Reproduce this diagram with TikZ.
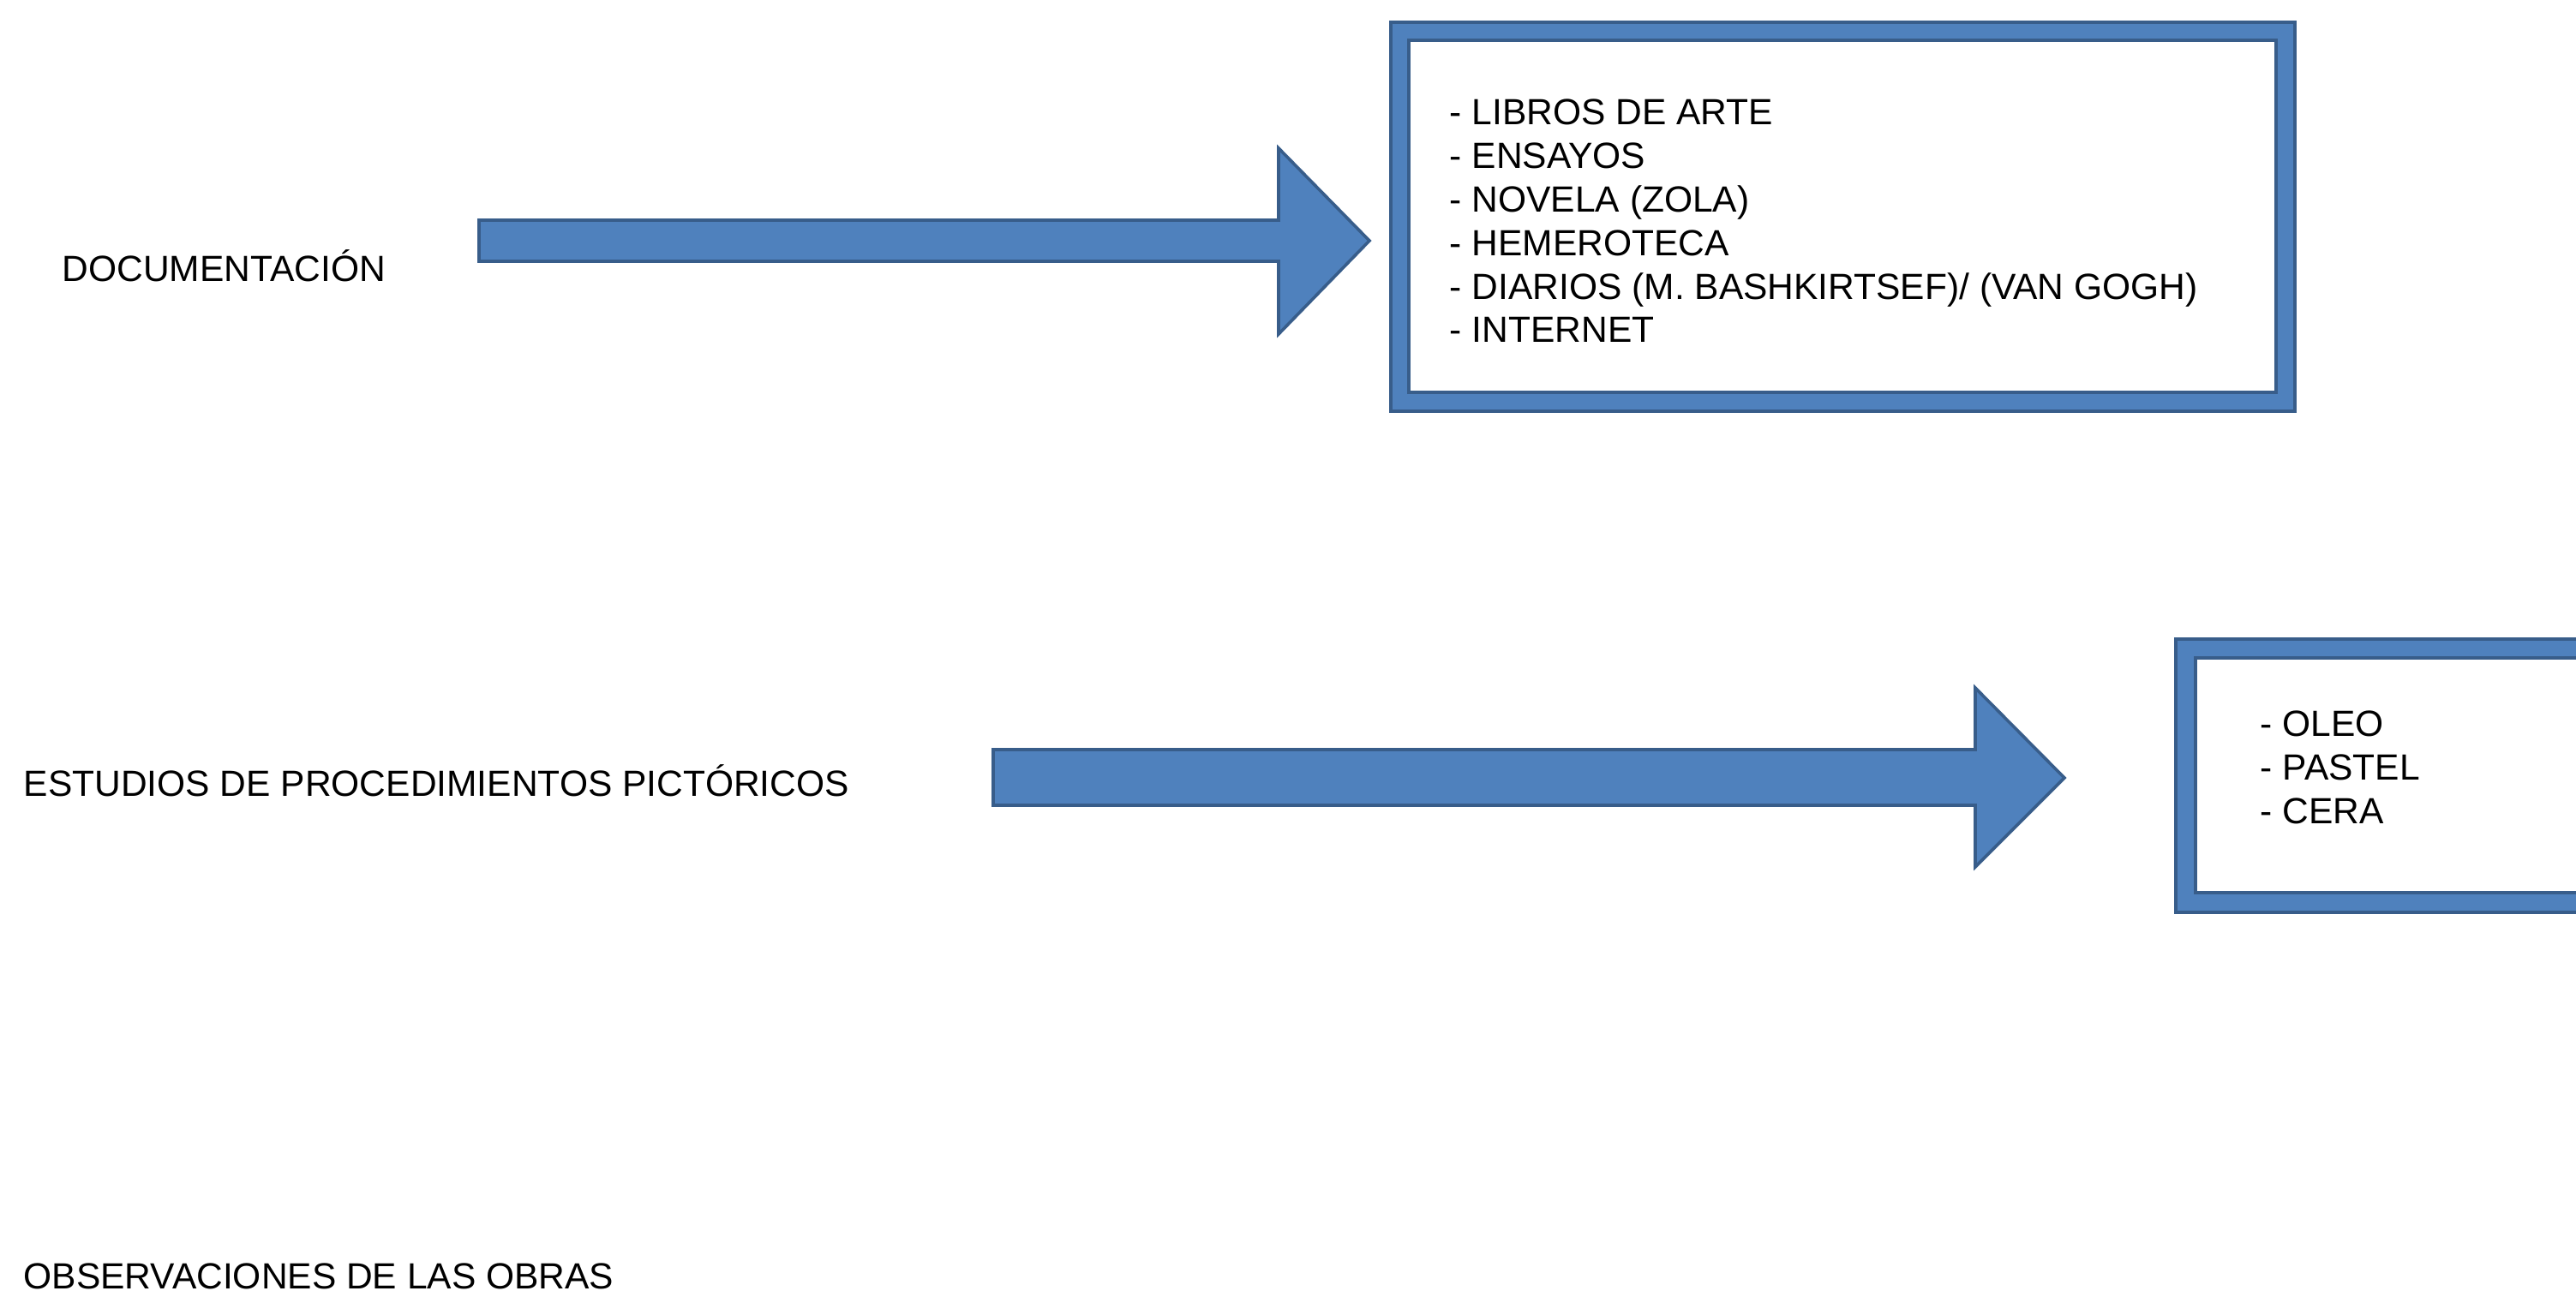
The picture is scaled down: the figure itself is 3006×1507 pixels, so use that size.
\documentclass[tikz,border=0pt]{standalone}
\usepackage{fontspec}
\setmainfont{Liberation Sans}
\definecolor{blfill}{HTML}{4F81BD}
\definecolor{blline}{HTML}{385D8A}
\tikzset{
  lbl/.style={anchor=base west, inner sep=0pt, font=\fontsize{10.63}{12.7}\selectfont, text=black},
  blockarrow/.style={fill=blfill, draw=blline, line width=0.9pt, line join=miter},
  frameout/.style={fill=blfill, draw=blline, line width=0.8pt},
  framein/.style={fill=white, draw=blline, line width=0.9pt},
}
\begin{document}
\begin{tikzpicture}[x=0.25pt,y=-0.25pt]
\useasboundingbox (0,0) rectangle (3006,1507);
\fill[white] (0,0) rectangle (3006,1507);
\clip (0,0) rectangle (3006,1507);

% row 1
\node[lbl] (doc) at (72,329) {DOCUMENTACIÓN};
\draw[blockarrow] (559,257) -- (1492,257) -- (1492,173) -- (1598,281) -- (1492,390) -- (1492,305) -- (559,305) -- cycle;
\draw[frameout] (1623,26) rectangle (2678,480);
\draw[framein] (1644,47) rectangle (2656,458);
\node[lbl] (l1) at (1691,146) {- LIBROS DE ARTE};
\node[lbl] (l2) at (1691,196.8) {- ENSAYOS};
\node[lbl] (l3) at (1691,247.6) {- NOVELA (ZOLA)};
\node[lbl] (l4) at (1691,298.4) {- HEMEROTECA};
\node[lbl] (l5) at (1691,349.2) {- DIARIOS (M. BASHKIRTSEF)/ (VAN GOGH)};
\node[lbl] (l6) at (1691,400) {- INTERNET};

% row 2
\node[lbl] (est) at (27,929) {ESTUDIOS DE PROCEDIMIENTOS PICTÓRICOS};
\draw[blockarrow] (1159,875) -- (2305,875) -- (2305,803) -- (2409,908) -- (2305,1012) -- (2305,940) -- (1159,940) -- cycle;
\draw[frameout] (2539,746) rectangle (3100,1065);
\draw[framein] (2562,768) rectangle (3080,1042);
\node[lbl] (m1) at (2637,859) {- OLEO};
\node[lbl] (m2) at (2637,910) {- PASTEL};
\node[lbl] (m3) at (2637,961) {- CERA};

% row 3
\node[lbl] (obs) at (27,1504) {OBSERVACIONES DE LAS OBRAS};
\end{tikzpicture}
\end{document}
